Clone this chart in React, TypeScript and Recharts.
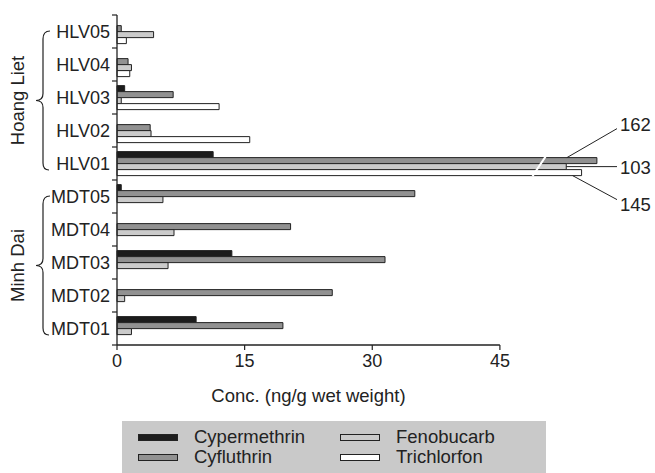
import React from "react";
import { BarChart, Bar, XAxis, YAxis, ReferenceLine, LabelList } from "recharts";

const categories = ["HLV05", "HLV04", "HLV03", "HLV02", "HLV01", "MDT05", "MDT04", "MDT03", "MDT02", "MDT01"];
const cypermethrin = [0, 0, 0.9, 0, 11.3, 0.5, 0, 13.5, 0, 9.3];
const cyfluthrin = [0.5, 1.3, 6.6, 3.9, 162, 35, 20.4, 31.5, 25.3, 19.5];
const fenobucarb = [4.3, 1.7, 0.5, 4.0, 103, 5.4, 6.7, 6.0, 0.9, 1.7];
const trichlorfon = [1.1, 1.5, 12.0, 15.6, 145, 0, 0, 0, 0, 0];
const xTicks = [0, 15, 30, 45];

// values beyond the axis break, and where their broken bars end on the scale
const brokenValues = [162, 103, 145];
const brokenDrawnAt = [56.4, 52.8, 54.6];

const groups = [
  { name: "Hoang Liet", first: 0, last: 4 },
  { name: "Minh Dai", first: 5, last: 9 },
];

const AXIS_MAX = 45;
const W = 655;
const H = 473;
const TOP = 15;
const PLOT_BOTTOM = 345;
const BAND = (PLOT_BOTTOM - TOP) / categories.length;
const LABEL_X = 617;
const INK = "#222";
const FONT = "'Liberation Sans', Arial, Helvetica, sans-serif";

const series = [
  { key: "cypermethrin", name: "Cypermethrin", values: cypermethrin, fill: "#1c1c1c", note: "" },
  { key: "cyfluthrin", name: "Cyfluthrin", values: cyfluthrin, fill: "#919191", note: "up" },
  { key: "fenobucarb", name: "Fenobucarb", values: fenobucarb, fill: "#cbcbcb", note: "flat" },
  { key: "trichlorfon", name: "Trichlorfon", values: trichlorfon, fill: "#ffffff", note: "down" },
];

const shown = (v: number) => (v > AXIS_MAX ? brokenDrawnAt[brokenValues.indexOf(v)] : v);

const data = categories.map((name, i) => {
  const row: Record<string, any> = { name };
  series.forEach((s) => {
    row[s.key] = shown(s.values[i]);
    row[s.key + "Raw"] = s.values[i];
  });
  return row;
});

const breakLabel = (kind: string) => (props: any) => {
  const { x, y, width, height, value } = props;
  if (!(value > AXIS_MAX)) return null;
  const right = x + width;
  const txt = { fontSize: 18.5, fill: INK, fontFamily: FONT, dominantBaseline: "central" as const };
  if (kind === "up") {
    return (
      <g>
        <line x1={right - 30} y1={y} x2={LABEL_X} y2={y - 29} stroke={INK} strokeWidth={1} />
        <text x={LABEL_X + 3} y={y - 33} {...txt}>{value}</text>
      </g>
    );
  }
  if (kind === "flat") {
    return (
      <g>
        <line x1={right} y1={y + height / 2} x2={LABEL_X} y2={y + height / 2} stroke={INK} strokeWidth={1} />
        <text x={LABEL_X + 3} y={y + height / 2 + 1} {...txt}>{value}</text>
      </g>
    );
  }
  // last series also carries the break mark across the broken bars
  const perUnit = width / shown(value);
  const bx = x + 49.6 * perUnit;
  return (
    <g>
      <line x1={right - 9} y1={y + height} x2={LABEL_X} y2={y + height + 24} stroke={INK} strokeWidth={1} />
      <text x={LABEL_X + 3} y={y + height + 29} {...txt}>{value}</text>
      <line x1={bx - 6.5} y1={y + height + 0.5} x2={bx + 6.5} y2={y - 13} stroke="#fff" strokeWidth={2} />
    </g>
  );
};

const YTick = (props: any) => {
  const { x, y, payload, index } = props;
  const half = BAND / 2;
  return (
    <g>
      <text x={x - 7} y={y} textAnchor="end" dominantBaseline="central" fontSize={18} fill={INK} fontFamily={FONT}>
        {payload.value}
      </text>
      <line x1={x - 5} x2={x} y1={y - half} y2={y - half} stroke={INK} strokeWidth={1.2} />
      {index === categories.length - 1 && (
        <line x1={x - 5} x2={x} y1={y + half} y2={y + half} stroke={INK} strokeWidth={1.2} />
      )}
    </g>
  );
};

function Braces() {
  return (
    <svg width={70} height={H} style={{ position: "absolute", left: 0, top: 0, pointerEvents: "none" }}>
      {groups.map((g) => {
        const top = TOP + g.first * BAND + 16;
        const bottom = TOP + (g.last + 1) * BAND - 10;
        const mid = (top + bottom) / 2;
        const d = `M50,${top} Q43,${top} 43,${top + 8} L43,${mid - 7} Q43,${mid} 36,${mid} Q43,${mid} 43,${mid + 7} L43,${bottom - 7} Q43,${bottom} 49,${bottom}`;
        return (
          <g key={g.name}>
            <path d={d} fill="none" stroke={INK} strokeWidth={1.2} />
            <text
              x={17}
              y={mid}
              transform={`rotate(-90 17 ${mid})`}
              textAnchor="middle"
              dominantBaseline="central"
              fontSize={18.5}
              fill={INK}
              fontFamily={FONT}
            >
              {g.name}
            </text>
          </g>
        );
      })}
    </svg>
  );
}

function LegendBox() {
  return (
    <div
      style={{
        position: "absolute",
        left: 122,
        top: 421,
        width: 424,
        height: 52,
        background: "#c9c9c9",
        fontFamily: FONT,
        fontSize: 18.5,
        color: INK,
      }}
    >
      {series.map((s, i) => {
        const col = Math.floor(i / 2);
        const row = i % 2;
        return (
          <div
            key={s.key}
            style={{
              position: "absolute",
              left: 16 + col * 202,
              top: 6 + row * 20,
              height: 20,
              display: "flex",
              alignItems: "center",
            }}
          >
            <span
              style={{
                display: "inline-block",
                width: 38,
                height: 5,
                background: s.fill,
                border: `1px solid ${INK}`,
                marginRight: 16,
              }}
            />
            <span>{s.name}</span>
          </div>
        );
      })}
    </div>
  );
}

export default function App() {
  return (
    <div style={{ position: "absolute", left: 0, top: 0, width: W, height: H, background: "#fff", fontFamily: FONT }}>
      <BarChart
        width={W}
        height={H}
        data={data}
        layout="vertical"
        margin={{ top: TOP, right: 53, left: 50, bottom: 98 }}
        barCategoryGap="14%"
        barGap={0}
      >
        <XAxis
          type="number"
          domain={[0, 57]}
          ticks={xTicks}
          axisLine={false}
          tickSize={5}
          tickMargin={4}
          height={30}
          tickLine={{ stroke: INK, strokeWidth: 1.2 }}
          tick={{ fontSize: 18, fill: INK, fontFamily: FONT }}
        />
        <YAxis
          type="category"
          dataKey="name"
          width={67}
          interval={0}
          tickSize={0}
          tickMargin={0}
          tickLine={false}
          axisLine={{ stroke: INK, strokeWidth: 1.3 }}
          tick={<YTick />}
        />
        {series.map((s) => (
          <Bar key={s.key} dataKey={s.key} name={s.name} fill={s.fill} stroke={INK} strokeWidth={1} isAnimationActive={false}>
            {s.note && <LabelList dataKey={s.key + "Raw"} content={breakLabel(s.note)} />}
          </Bar>
        ))}
        <ReferenceLine
          segment={[{ x: 0, y: "MDT01" }, { x: AXIS_MAX, y: "MDT01" }]}
          position="end"
          stroke={INK}
          strokeWidth={1.3}
          label={{ value: "Conc. (ng/g wet weight)", position: "bottom", offset: 44, fontSize: 18.5, fill: INK, fontFamily: FONT }}
        />
      </BarChart>
      <Braces />
      <LegendBox />
    </div>
  );
}
